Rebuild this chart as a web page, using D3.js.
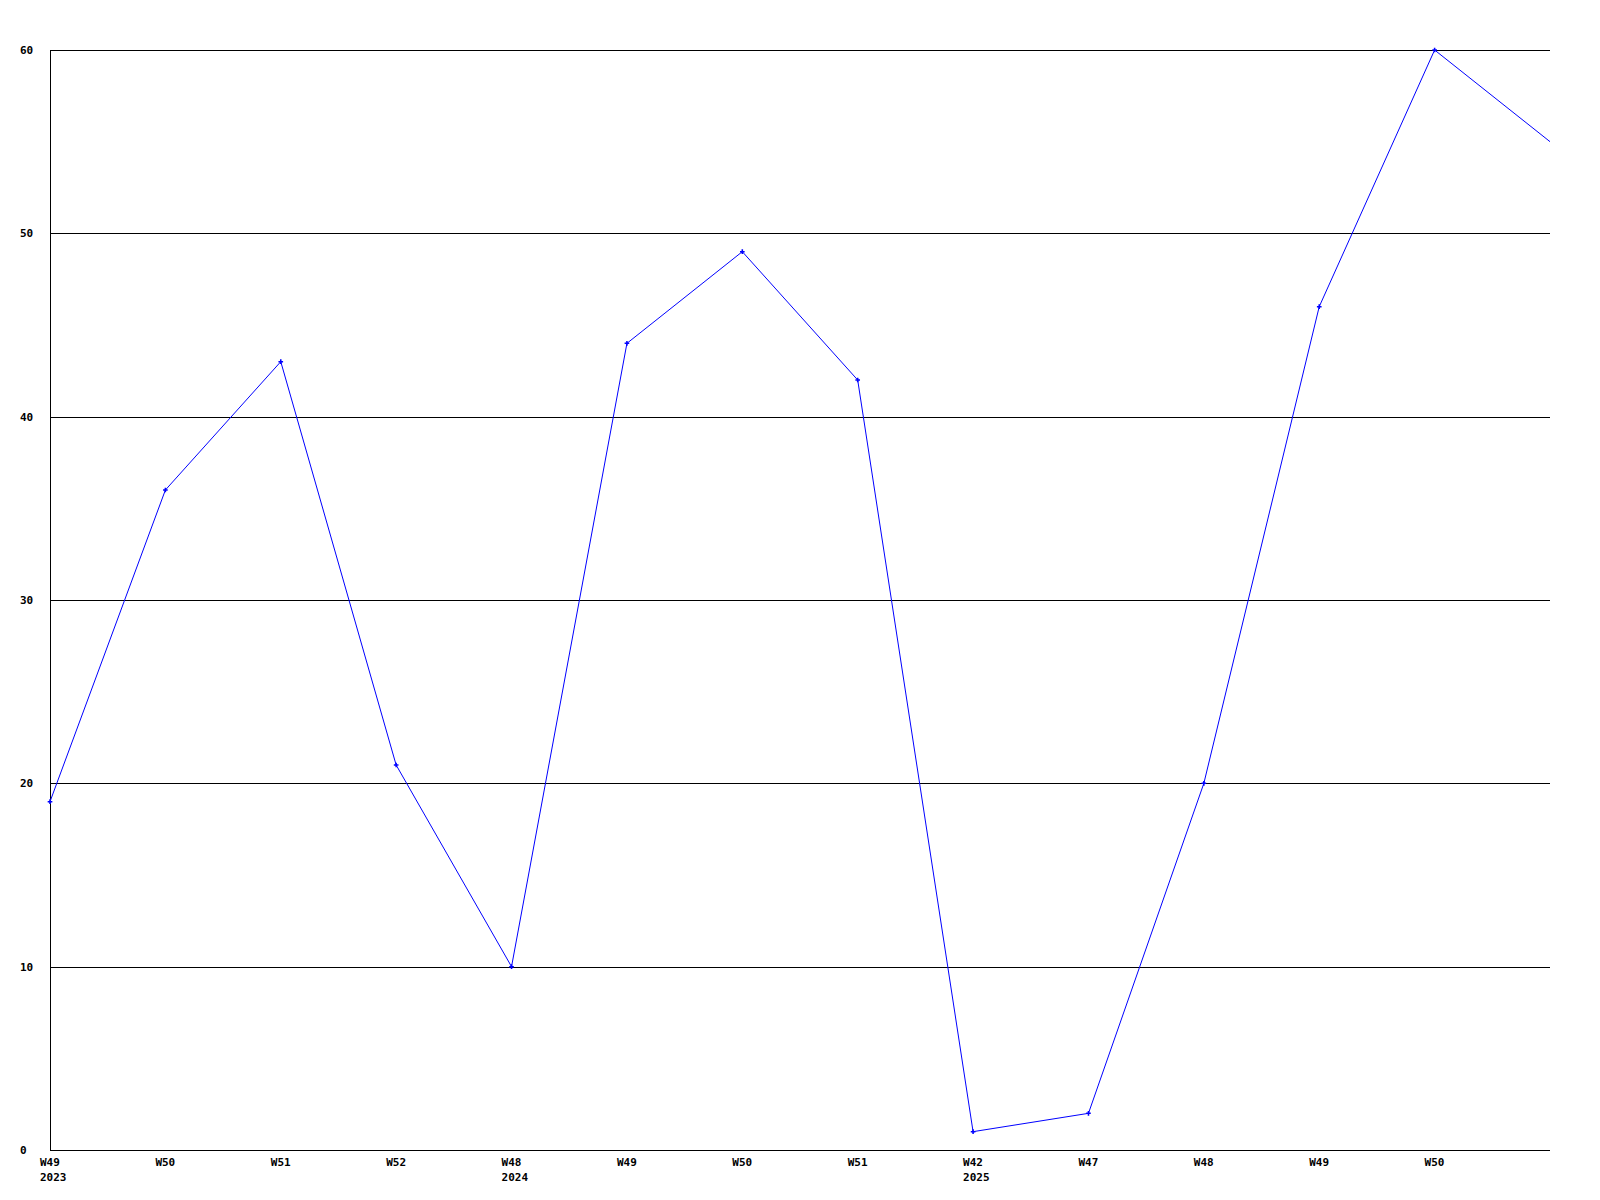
<!DOCTYPE html>
<html>
<head>
<meta charset="utf-8">
<script src="https://cdn.jsdelivr.net/npm/d3@7"></script>
<style>
  body { margin: 0; background: white; }
  text { font-family: "DejaVu Sans Mono", monospace; font-weight: bold; font-size: 11px; fill: black; }
</style>
</head>
<body>
<div id="vis"></div>
<script>
// weekly values, last point has no label
let weeks = ['W49', 'W50', 'W51', 'W52', 'W48', 'W49', 'W50', 'W51', 'W42', 'W47', 'W48', 'W49', 'W50', '']
let years = ['2023', '', '', '', '2024', '', '', '', '2025', '', '', '', '', '']
let values = [19, 36, 43, 21, 10, 44, 49, 42, 1, 2, 20, 46, 60, 55]
let yTicks = [0, 10, 20, 30, 40, 50, 60]

let margin = { top: 50, left: 50, right: 50, bottom: 50 },
  width = 1600 - margin.left - margin.right,
  height = 1200 - margin.top - margin.bottom;

let svg = d3.select('#vis')
  .append('svg')
  .attr('width', 1600)
  .attr('height', 1200)

let x = d3.scaleLinear().domain([0, values.length - 1]).range([margin.left, margin.left + width])
let y = d3.scaleLinear().domain([0, 60]).range([margin.top + height, margin.top])

// grid lines
svg.append('g')
  .selectAll('line')
  .data(yTicks)
  .join('line')
  .attr('x1', margin.left)
  .attr('x2', margin.left + width)
  .attr('y1', d => Math.round(y(d)) + 0.5)
  .attr('y2', d => Math.round(y(d)) + 0.5)
  .attr('stroke', 'black')
  .attr('stroke-width', 1)
  .attr('shape-rendering', 'crispEdges')

// left axis line
svg.append('line')
  .attr('x1', margin.left + 0.5).attr('x2', margin.left + 0.5)
  .attr('y1', margin.top).attr('y2', margin.top + height)
  .attr('stroke', 'black')
  .attr('shape-rendering', 'crispEdges')

// y labels
svg.append('g')
  .selectAll('text')
  .data(yTicks)
  .join('text')
  .attr('x', 20)
  .attr('y', d => y(d))
  .attr('dy', '0.35em')
  .text(d => d)

// x labels
svg.append('g')
  .selectAll('text')
  .data(weeks)
  .join('text')
  .attr('x', (d, i) => x(i) - 10)
  .attr('y', margin.top + height + 16)
  .text(d => d)

svg.append('g')
  .selectAll('text')
  .data(years)
  .join('text')
  .attr('x', (d, i) => x(i) - 10)
  .attr('y', margin.top + height + 31)
  .text(d => d)

// the line
let line = d3.line()
  .x((d, i) => x(i))
  .y(d => y(d))

svg.append('path')
  .datum(values)
  .attr('d', line)
  .attr('fill', 'none')
  .attr('stroke', '#0000ff')
  .attr('stroke-width', 1)

// point markers
svg.append('g')
  .selectAll('path')
  .data(values.slice(0, values.length - 1))
  .join('path')
  .attr('transform', (d, i) => 'translate(' + x(i) + ',' + y(d) + ')')
  .attr('d', d3.symbol().type(d3.symbolCross).size(12))
  .attr('fill', '#0000ff')
</script>
</body>
</html>
